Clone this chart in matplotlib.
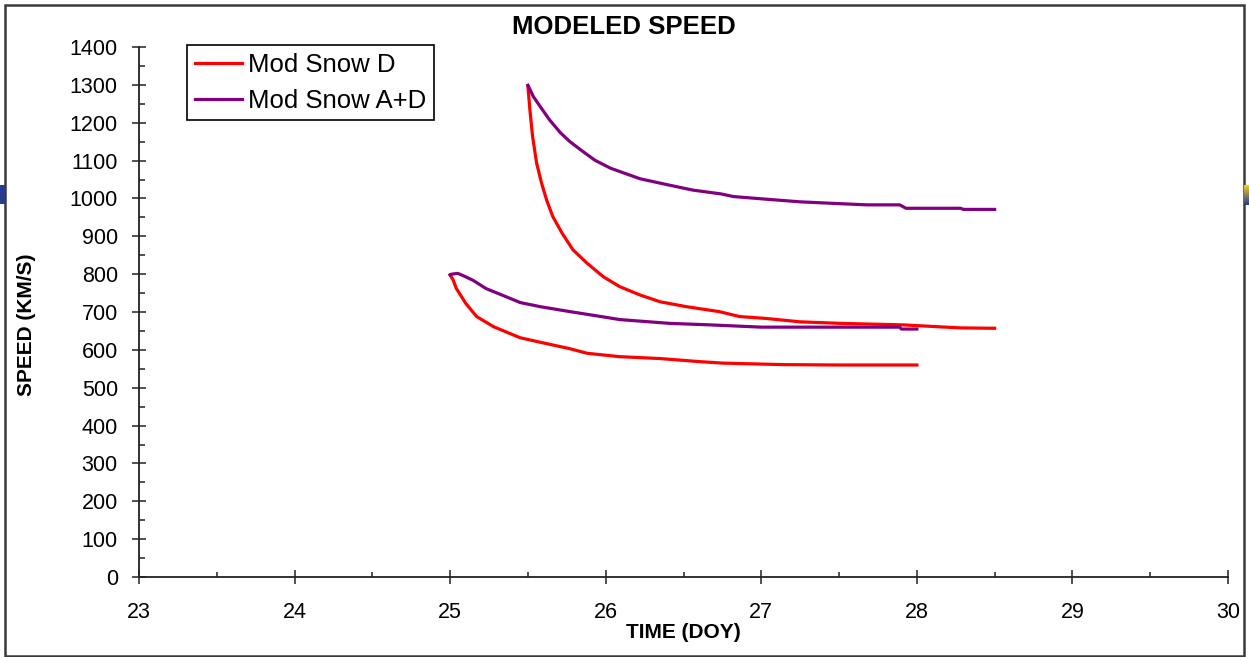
import numpy as np
import matplotlib
matplotlib.use("Agg")
import matplotlib.pyplot as plt
from matplotlib.ticker import MultipleLocator
from matplotlib.patches import Rectangle

plt.rcParams["font.family"] = ["Liberation Sans", "DejaVu Sans"]

# Mod Snow D, CME launched on day 25.0
d_lo_t = [25.0, 25.02, 25.04, 25.1, 25.17, 25.28, 25.45, 25.58, 25.77, 25.88, 26.09, 26.35,
          26.6, 26.75, 27.14, 27.5, 28.0]
d_lo_v = [798, 784, 762, 723, 688, 661, 632, 620, 603, 591, 582, 577,
          569, 565, 561, 560, 560]

# Mod Snow D, CME launched on day 25.5
d_hi_t = [25.5, 25.513, 25.53, 25.556, 25.588, 25.62, 25.66, 25.72, 25.79, 25.88, 25.985,
          26.09, 26.22, 26.35, 26.52, 26.73, 26.86, 27.03, 27.25, 27.51, 27.91, 28.28, 28.5]
d_hi_v = [1295, 1233, 1163, 1093, 1040, 996, 952, 908, 864, 829, 793,
          767, 745, 727, 714, 701, 688, 683, 674, 670, 666, 658, 657]

# Mod Snow A+D, day 25.0
ad_lo_t = [25.0, 25.01, 25.05, 25.1, 25.15, 25.23, 25.32, 25.45, 25.58, 25.77, 25.94, 26.09,
           26.41, 26.67, 27.0, 27.89, 27.9, 28.0]
ad_lo_v = [798, 800, 802, 793, 783, 762, 747, 725, 714, 701, 690, 680,
           670, 666, 660, 660, 655, 655]

# Mod Snow A+D, day 25.5
ad_hi_t = [25.5, 25.535, 25.58, 25.64, 25.71, 25.77, 25.84, 25.93, 26.03, 26.22, 26.41, 26.56,
           26.74, 26.82, 27.03, 27.25, 27.46, 27.68, 27.89, 27.93, 28.28, 28.3, 28.5]
ad_hi_v = [1299, 1269, 1242, 1207, 1173, 1150, 1128, 1101, 1080, 1052, 1035, 1022,
           1012, 1005, 998, 991, 987, 983, 983, 974, 974, 971, 971]

W, H = 1249, 657
fig = plt.figure(figsize=(W / 100, H / 100), dpi=100)
ax = fig.add_axes([139 / W, 1 - 577 / H, (1228 - 139) / W, (577 - 47) / H])

red = "#ff0000"
purple = "#800080"
lw = 2.3
ax.plot(d_lo_t, d_lo_v, color=red, lw=lw, label="Mod Snow D", solid_joinstyle="round")
ax.plot(d_hi_t, d_hi_v, color=red, lw=lw, solid_joinstyle="round")
ax.plot(ad_lo_t, ad_lo_v, color=purple, lw=lw, label="Mod Snow A+D", solid_joinstyle="round")
ax.plot(ad_hi_t, ad_hi_v, color=purple, lw=lw, solid_joinstyle="round")

ax.set_xlim(23, 30)
ax.set_ylim(0, 1400)
ax.xaxis.set_major_locator(MultipleLocator(1))
ax.xaxis.set_minor_locator(MultipleLocator(0.5))
ax.yaxis.set_major_locator(MultipleLocator(100))
ax.yaxis.set_minor_locator(MultipleLocator(50))

for s in ["top", "right"]:
    ax.spines[s].set_visible(False)
for s in ["left", "bottom"]:
    ax.spines[s].set_linewidth(1.3)
    ax.spines[s].set_color("#222222")

ax.tick_params(axis="y", which="major", direction="inout", length=9.5, width=1.1,
               labelsize=15.5, pad=10.5, color="#222222")
ax.tick_params(axis="y", which="minor", direction="in", length=4.5, width=1.1, color="#222222")
ax.tick_params(axis="x", which="major", direction="inout", length=9.5, width=1.1,
               labelsize=15.5, pad=13, color="#222222")
ax.tick_params(axis="x", which="minor", direction="in", length=3.5, width=1.1, color="#222222")

fig.text(624 / W, 1 - 27 / H, "MODELED SPEED", ha="center", va="center",
         fontsize=18.5, fontweight="bold")
fig.text(683 / W, 1 - 633 / H, "TIME (DOY)", ha="center", va="center",
         fontsize=15, fontweight="bold")
fig.text(26 / W, 1 - 325 / H, "SPEED (KM/S)", ha="center", va="center",
         fontsize=15, fontweight="bold", rotation=90)

leg = ax.legend(loc="upper left", bbox_to_anchor=(187 / W, 1 - 45 / H),
                bbox_transform=fig.transFigure, fontsize=18.5, frameon=True,
                fancybox=False, edgecolor="black", framealpha=1,
                handlelength=1.83, handletextpad=0.25, borderpad=0.3,
                labelspacing=0.47, borderaxespad=0)
leg.get_frame().set_linewidth(1.2)

# outer frame and slide edge bars
fig.patches.append(Rectangle((5 / W, 1 / H), 1239 / W, 651 / H, transform=fig.transFigure,
                             fill=False, edgecolor="#3a3a3a", linewidth=1.8))
fig.patches.append(Rectangle((0, 1 - 204 / H), 5 / W, 19 / H, transform=fig.transFigure,
                             facecolor="#2b3a8c", edgecolor="none"))
grad = np.linspace(0, 1, 20)[:, None, None]
top_c = np.array([0.93, 0.80, 0.15])
bot_c = np.array([0.17, 0.23, 0.55])
bar = (1 - grad) * top_c + grad * bot_c
bar = np.repeat(bar, 5, axis=1)
fig.figimage(bar[::-1], xo=1244, yo=H - 205, origin="lower", zorder=5)

fig.savefig("out.png", dpi=100)
